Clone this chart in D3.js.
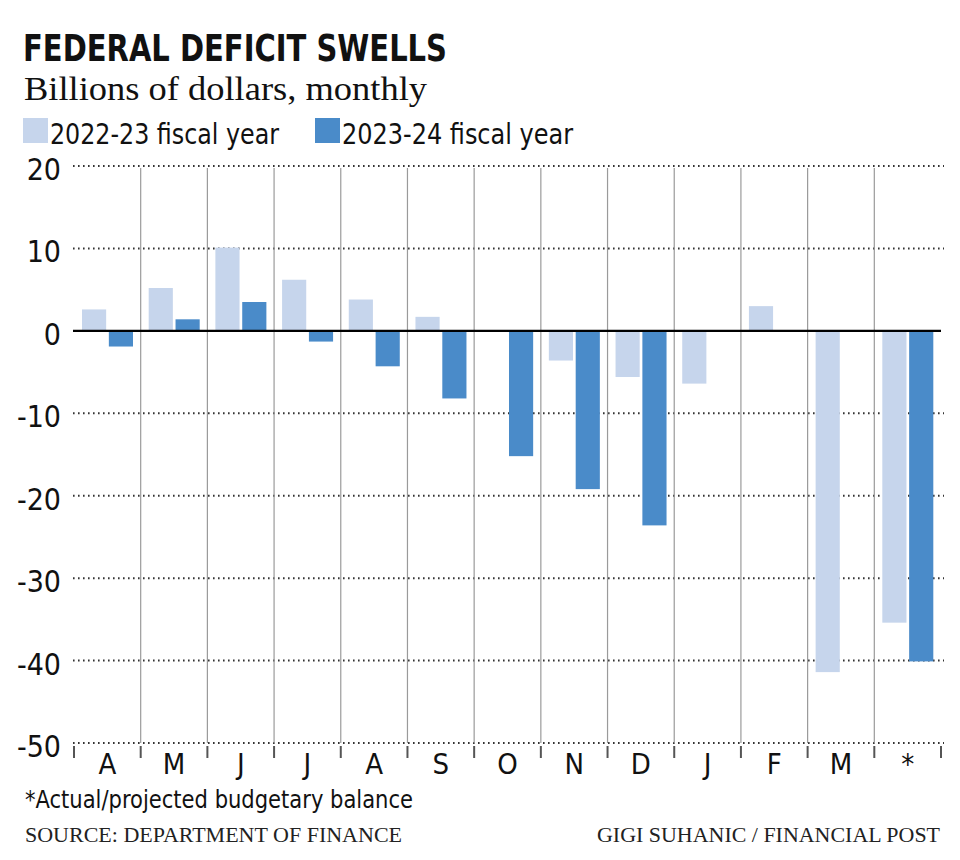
<!DOCTYPE html>
<html>
<head>
<meta charset="utf-8">
<script src="https://cdn.jsdelivr.net/npm/d3@7"></script>
<style>
  html, body { margin: 0; padding: 0; background: #fff; }
  svg { display: block; }
  .cond { font-family: "Liberation Sans Narrow", "DejaVu Sans Condensed", "Roboto", sans-serif; }
  .serif { font-family: "Liberation Serif", "DejaVu Serif", serif; }
</style>
</head>
<body>
<svg id="chart" width="960" height="860"></svg>
<script>
// ---- data ----
const months = ["A", "M", "J", "J ", "A ", "S", "O", "N", "D", "J  ", "F", "M ", "*"];
const monthLabels = ["A", "M", "J", "J", "A", "S", "O", "N", "D", "J", "F", "M", "*"];
const seriesNames = ["2022-23 fiscal year", "2023-24 fiscal year"];
const fy2223 = [2.6, 5.2, 10.1, 6.2, 3.8, 1.7, null, -3.6, -5.6, -6.4, 3.0, -41.4, -35.4];
const fy2324 = [-1.9, 1.4, 3.5, -1.3, -4.3, -8.2, -15.2, -19.2, -23.6, null, null, null, -40.1];
const yTicks = [20, 10, 0, -10, -20, -30, -40, -50];
const colors = ["#c6d5ec", "#4a8bc9"];

const svg = d3.select("#chart");

// ---- scales ----
const x = d3.scaleBand().domain(months).range([74, 941]).padding(0);
const x1 = d3.scaleBand().domain(seriesNames).range([8, 59]).paddingInner(0.1);
const y = d3.scaleLinear().domain([-50, 20]).range([743, 166]);

// ---- titles ----
function fitText(sel, len) { sel.attr("textLength", len).attr("lengthAdjust", "spacingAndGlyphs"); }

svg.append("text").attr("class", "cond").attr("x", 23).attr("y", 61)
  .style("font-size", "37px").style("font-weight", "bold").attr("fill", "#111")
  .text("FEDERAL DEFICIT SWELLS").call(fitText, 424);

svg.append("text").attr("class", "serif").attr("x", 24).attr("y", 100)
  .style("font-size", "34px").attr("fill", "#111")
  .text("Billions of dollars, monthly").call(fitText, 403);

// legend
const legendX = [23, 315];
const legendW = [229, 231];
seriesNames.forEach((s, i) => {
  svg.append("rect").attr("x", legendX[i]).attr("y", 118).attr("width", 25).attr("height", 25).attr("fill", colors[i]);
  svg.append("text").attr("class", "cond").attr("x", legendX[i] + 27).attr("y", 144)
    .style("font-size", "29px").attr("fill", "#111").text(s).call(fitText, legendW[i]);
});

// ---- gridlines (dotted) ----
const gridG = svg.append("g");
gridG.selectAll("line").data(yTicks.filter(d => d !== 0)).join("line")
  .attr("x1", 73).attr("x2", 944)
  .attr("y1", d => y(d)).attr("y2", d => y(d))
  .attr("stroke", "#333").attr("stroke-width", 2)
  .attr("stroke-dasharray", "1.6 3.4");

// vertical separators
const sepG = svg.append("g");
sepG.selectAll("line").data(months.slice(1)).join("line")
  .attr("x1", d => x(d)).attr("x2", d => x(d))
  .attr("y1", y(20) + 2).attr("y2", y(-50))
  .attr("stroke", "#9a9a9a").attr("stroke-width", 1.2);

// bottom ticks
const tickG = svg.append("g");
tickG.selectAll("line").data(months.concat(["end"])).join("line")
  .attr("x1", (d, i) => i < months.length ? x(d) : x.range()[1])
  .attr("x2", (d, i) => i < months.length ? x(d) : x.range()[1])
  .attr("y1", y(-50) + 3).attr("y2", y(-50) + 15)
  .attr("stroke", "#555").attr("stroke-width", 2);

// ---- bars ----
const data = months.map((m, i) => ({ m, vals: [fy2223[i], fy2324[i]] }));
const barG = svg.append("g");
data.forEach(d => {
  d.vals.forEach((v, j) => {
    if (v === null) return;
    barG.append("rect")
      .attr("x", x(d.m) + x1(seriesNames[j]))
      .attr("width", x1.bandwidth())
      .attr("y", y(Math.max(0, v)))
      .attr("height", Math.abs(y(v) - y(0)))
      .attr("fill", colors[j]);
  });
});

// zero line
svg.append("line").attr("x1", 73).attr("x2", 941)
  .attr("y1", y(0)).attr("y2", y(0))
  .attr("stroke", "#000").attr("stroke-width", 2.4);

// ---- y axis labels ----
const yAxis = d3.axisLeft(y).tickValues(yTicks).tickFormat(d => String(d)).tickSize(0).tickPadding(0);
const yg = svg.append("g").attr("transform", "translate(61,0)").call(yAxis);
yg.select(".domain").remove();
yg.selectAll("text").attr("class", "cond").attr("dy", "0.45em")
  .style("font-size", "30px").attr("fill", "#111").attr("font-family", null);

// ---- x axis labels ----
const xAxis = d3.axisBottom(x).tickFormat((d, i) => monthLabels[i]).tickSize(0).tickPadding(0);
const xg = svg.append("g").attr("transform", "translate(0,752)").call(xAxis);
xg.select(".domain").remove();
xg.selectAll("text").attr("class", "cond").attr("dy", "0.75em")
  .style("font-size", "29px").attr("fill", "#111").attr("font-family", null);

// ---- footer ----
svg.append("text").attr("class", "cond").attr("x", 25).attr("y", 808)
  .style("font-size", "24px").attr("fill", "#111")
  .text("*Actual/projected budgetary balance").call(fitText, 388);

svg.append("text").attr("class", "serif").attr("x", 25).attr("y", 842)
  .style("font-size", "21px").attr("fill", "#222")
  .text("SOURCE: DEPARTMENT OF FINANCE").call(fitText, 377);

svg.append("text").attr("class", "serif").attr("x", 597).attr("y", 842)
  .style("font-size", "21px").attr("fill", "#222")
  .text("GIGI SUHANIC / FINANCIAL POST").call(fitText, 343);
</script>
</body>
</html>
